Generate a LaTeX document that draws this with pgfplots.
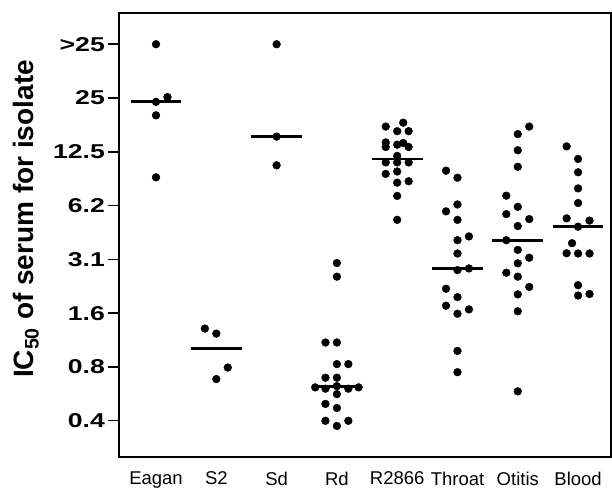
\documentclass[border=0pt]{standalone}
\usepackage{fontspec}
\setmainfont{Liberation Sans}
\newfontfamily\tickfont[FakeStretch=1.33,UprightFont={* Bold}]{Liberation Sans}
\usepackage{pgfplots}
\pgfplotsset{compat=1.18}
\begin{document}
\begin{tikzpicture}
\path[use as bounding box] (0,0) rectangle (612bp,490bp);
\begin{axis}[at={(119bp,33bp)},anchor=south west,scale only axis,width=492bp,height=444bp,
  xmin=0.386,xmax=8.546,ymode=log,log basis y=2,ymin=0.2446,ymax=74.8,
  axis line style={line width=1.5bp},
  xtick={1,2,3,4,5,6,7,8},xticklabels={Eagan,S2,Sd,Rd,R2866,Throat,Otitis,Blood},
  xtick style={draw=none},
  ytick={0.390625,0.78125,1.5625,3.125,6.25,12.5,25,50},
  yticklabels={0.4,0.8,1.6,3.1,6.2,12.5,25,\textgreater 25},
  ytick pos=left,tick align=outside,major tick length=11bp,ytick style={line width=1.5bp,black},
  xticklabel style={font=\fontsize{18.5bp}{22bp}\selectfont,inner sep=0pt,yshift=-3.5bp},
  yticklabel style={font=\tickfont\fontsize{20bp}{24bp}\selectfont,inner sep=0pt,xshift=-3bp},
  ylabel={IC\textsubscript{50} of serum for isolate},
  ylabel style={font=\bfseries\fontsize{28bp}{32bp}\selectfont,at={(axis description cs:-0.189,0.536)},anchor=center},
  every axis plot/.append style={black}]
% Eagan
\addplot[only marks,mark=*,mark size=3.9bp] coordinates {(1,50) (1.19,25.3) (1,23.8) (1,20.0) (1,9.0)};
% S2
\addplot[only marks,mark=*,mark size=3.9bp] coordinates {(1.81,1.28) (2,1.20) (2.19,0.775) (2,0.668)};
% Sd
\addplot[only marks,mark=*,mark size=3.9bp] coordinates {(3,50) (3,15.2) (3,10.5)};
% Rd
\addplot[only marks,mark=*,mark size=3.9bp] coordinates {(4,2.98) (4,2.50) (3.81,1.07) (4,1.07) (4,0.81) (4.19,0.81) (3.81,0.68) (4,0.68)
  (3.64,0.60) (3.81,0.59) (4,0.61) (4.19,0.59) (4.36,0.60) (4,0.55) (3.81,0.485) (4,0.46) (3.81,0.39) (4.19,0.39) (4,0.365)};
% R2866
\addplot[only marks,mark=*,mark size=3.9bp] coordinates {(5.1,18.2) (4.81,17.3) (5,16.3) (5.19,16.3) (4.81,14.1) (4.81,13.3) (5,13.7) (5.1,14.0) (5.19,13.3)
  (4.81,10.9) (5,10.9) (5.19,10.9) (5,11.85) (4.81,9.4) (5,9.7) (5.19,8.55) (5,8.4) (5,7.08) (5,5.2)};
% Throat
\addplot[only marks,mark=*,mark size=3.9bp] coordinates {(5.81,9.8) (6,8.95) (6,6.34) (5.81,5.8) (6,5.2) (6.19,4.2) (6,4.0) (6,3.37) (6,2.72) (6.19,2.78)
  (5.81,2.14) (6,1.92) (5.81,1.72) (6.19,1.64) (6,1.55) (6,0.96) (6,0.73)};
% Otitis
\addplot[only marks,mark=*,mark size=3.9bp] coordinates {(7.19,17.3) (7,15.7) (7,12.75) (7,10.3) (6.81,7.1) (7,6.15) (6.81,5.6) (7.19,5.25) (7,4.8) (6.81,4.0)
  (7,3.53) (7.19,3.19) (7,2.97) (6.81,2.63) (7,2.5) (7.19,2.19) (7,1.99) (7,1.60) (7,0.57)};
% Blood
\addplot[only marks,mark=*,mark size=3.9bp] coordinates {(7.81,13.4) (8,11.4) (8,9.6) (8,7.8) (8,6.46) (7.81,5.3) (8.19,5.15) (8,4.76) (7.9,3.85) (7.81,3.38)
  (8,3.37) (8.19,3.37) (8,2.24) (8,1.96) (8.19,2.0)};
% medians
\addplot[line width=2.8bp,unbounded coords=jump] coordinates {(0.58,24.0) (1.42,24.0) (1.5,nan) (1.58,0.99) (2.42,0.99) (2.5,nan) (2.58,15.2) (3.42,15.2) (3.5,nan)
  (3.58,0.606) (4.42,0.606) (4.5,nan) (4.58,11.4) (5.42,11.4) (5.5,nan) (5.58,2.78) (6.42,2.78) (6.5,nan) (6.58,4.0) (7.42,4.0) (7.5,nan) (7.58,4.76) (8.42,4.76)};
\end{axis}
\end{tikzpicture}
\end{document}
